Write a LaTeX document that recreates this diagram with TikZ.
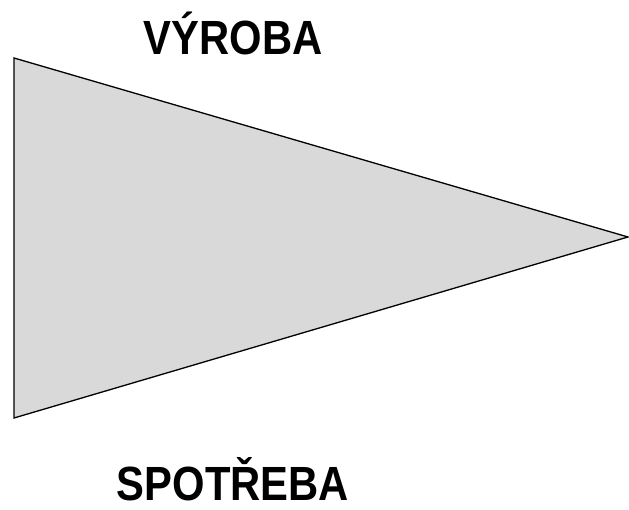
\documentclass[tikz,border=0pt]{standalone}
\usepackage{fontspec}
\setmainfont{Liberation Sans}
\usepackage{tikz}
\usetikzlibrary{positioning}
\tikzstyle{title} = [font=\fontsize{48}{48}\selectfont\bfseries, inner sep=0pt,
    anchor=base, xscale=0.87]
\tikzstyle{wedge} = [draw, fill=gray!30, line width=1.3pt, line join=miter]

\begin{document}
\begin{tikzpicture}[x=1pt,y=1pt]
    \useasboundingbox (0,0) rectangle (629,510);
    % Place corners
    \coordinate (top) at (14,452);
    \coordinate (bottom) at (14,92);
    \coordinate (tip) at (628,273);
    % Draw the wedge
    \path [wedge] (top) -- (tip) -- (bottom) -- cycle;
    % Place texts
    \node [title] (prod) at (233,455) {VÝROBA};
    \node [title] (cons) at (233,9) {SPOTŘEBA};
\end{tikzpicture}
\end{document}
